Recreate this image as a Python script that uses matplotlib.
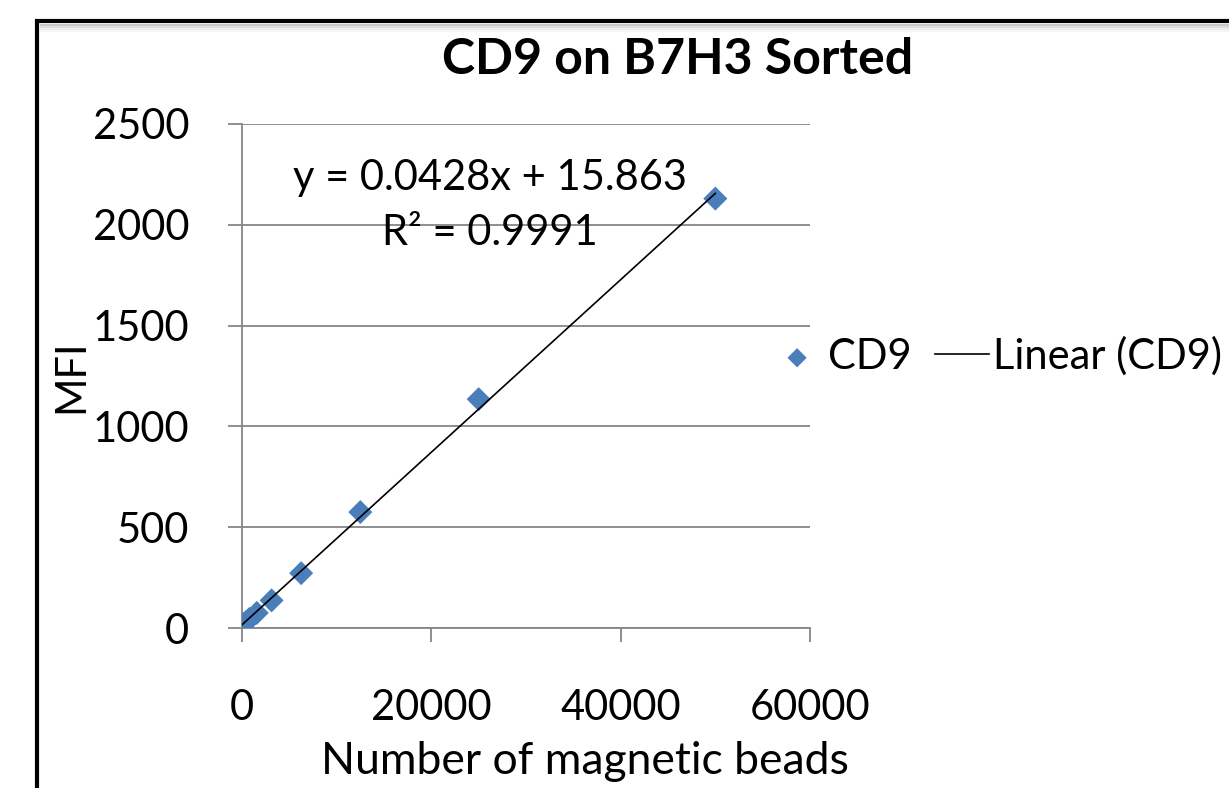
import matplotlib.pyplot as plt
from matplotlib.patches import Rectangle
from matplotlib.lines import Line2D

# Data
beads = [50000, 25000, 12500, 6250, 3125, 1563, 781, 391, 195, 98]
mfi = [2130, 1135, 575, 272, 137, 75, 45, 28, 20, 15]

# Excel trendline coefficients shown on the chart
slope = 0.0428
intercept = 15.863
r2 = 0.9991

xticks = [0, 20000, 40000, 60000]
yticks = [0, 500, 1000, 1500, 2000, 2500]

plt.rcParams['font.family'] = ['Lato', 'DejaVu Sans']

blue = "#4A7EBB"
axis_gray = "#868686"

fig = plt.figure(figsize=(12.29, 7.88), dpi=100)
ax = fig.add_axes([242 / 1229, 1 - 628 / 788, 568 / 1229, 504 / 788])

# outer chart frame (cropped on the right and bottom)
fig.patches.append(Rectangle((37 / 1229, -0.1), 1.2, 1 - 21 / 788 + 0.1,
                             transform=fig.transFigure, fill=False,
                             edgecolor="black", linewidth=3, zorder=0))
for i, c in enumerate(["#c8c8c8", "#dcdcdc", "#ececec", "#f6f6f6"]):
    off = (25 + i * 2) / 788
    fig.lines.append(Line2D([41 / 1229, 1], [1 - off, 1 - off], transform=fig.transFigure,
                            color=c, linewidth=1.5, zorder=0))

ax.scatter(beads, mfi, marker="D", s=150, color=blue, edgecolors="none",
           zorder=3, label="CD9")
xfit = [0, max(beads)]
yfit = [slope * x + intercept for x in xfit]
ax.plot(xfit, yfit, color="black", linewidth=1.2, zorder=4, label="Linear (CD9)")

ax.set_xlim(0, 60000)
ax.set_ylim(0, 2500)
ax.set_xticks(xticks)
ax.set_yticks(yticks)
ax.tick_params(axis="both", labelsize=30, colors=axis_gray, labelcolor="black",
               length=10, width=1.3, direction="out")
ax.tick_params(axis="x", pad=34)
ax.tick_params(axis="y", pad=28)
ax.grid(axis="y", color=axis_gray, linewidth=1.3)
ax.set_axisbelow(True)
for s in ["top", "right"]:
    ax.spines[s].set_visible(False)
for s in ["left", "bottom"]:
    ax.spines[s].set_color(axis_gray)
    ax.spines[s].set_linewidth(1.3)
ax.spines["bottom"].set_zorder(0)

ax.set_xlabel("Number of magnetic beads", fontsize=32, labelpad=10)
ax.xaxis.label.set_x(0.604)
ax.set_ylabel("MFI", fontsize=30, labelpad=2)

ax.text(26200, 2095, f"y = {slope}x + {intercept}\nR² = {r2}", fontsize=30,
        ha="center", va="center", multialignment="center", linespacing=1.55)

fig.text(678 / 1229, 1 - 60 / 788, "CD9 on B7H3 Sorted", fontsize=36,
         fontweight="bold", ha="center", va="center")

fig.legend(loc="center left", bbox_to_anchor=(770 / 1229, 1 - 356 / 788), ncol=2,
           frameon=False, fontsize=30, handlelength=1.3, handletextpad=0.1,
           columnspacing=0.55, markerscale=0.8, borderaxespad=0, borderpad=0)

fig.savefig("out.png", dpi=100)
